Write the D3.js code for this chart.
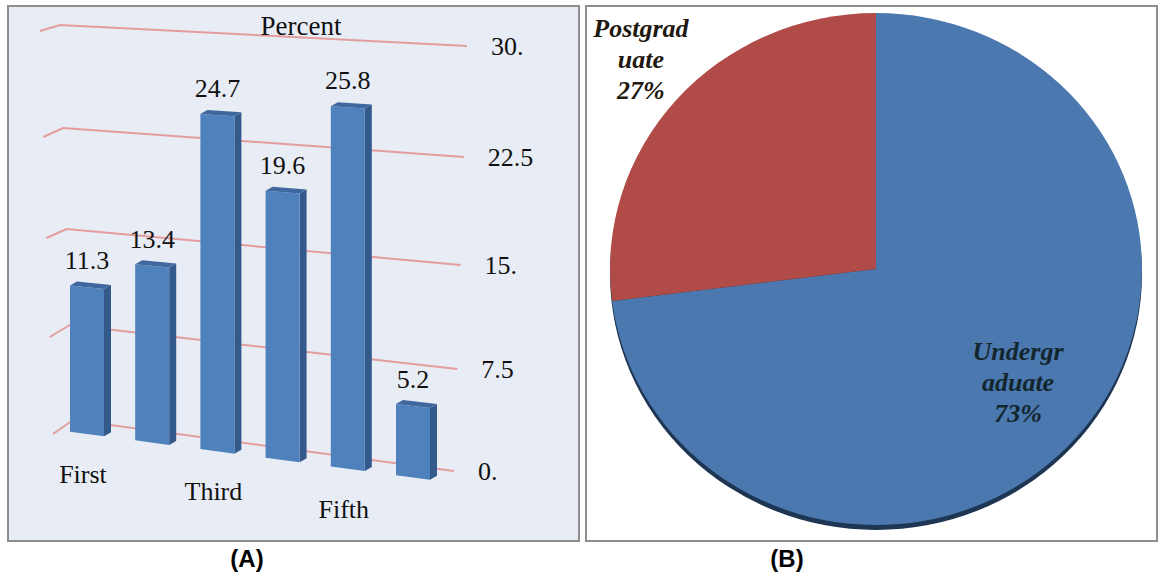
<!DOCTYPE html>
<html>
<head>
<meta charset="utf-8">
<script src="https://cdn.jsdelivr.net/npm/d3@7"></script>
<style>
  html, body { margin: 0; padding: 0; background: #ffffff; }
  svg { display: block; }
</style>
</head>
<body>
<div id="chart"></div>
<script>
// ---------- data ----------
const categories = ["First", "Second", "Third", "Fourth", "Fifth", "Sixth"];
const percentValues = [11.3, 13.4, 24.7, 19.6, 25.8, 5.2];
const yTicks = [0, 7.5, 15, 22.5, 30];
const yTickLabels = ["0.", "7.5", "15.", "22.5", "30."];
const axisTitle = "Percent";
const levels = ["Undergraduate", "Postgraduate"];
const levelShares = [73, 27];
const levelLabelLines = [["Undergr", "aduate", "73%"], ["Postgrad", "uate", "27%"]];
const panelLabels = ["(A)", "(B)"];

// ---------- layout ----------
const W = 1159, H = 576;
const svg = d3.select("#chart").append("svg").attr("width", W).attr("height", H);

const serif = "'Liberation Serif', 'Times New Roman', serif";
const sans = "'Liberation Sans', Arial, sans-serif";

// panel frames
svg.append("rect").attr("x", 8).attr("y", 6).attr("width", 571).attr("height", 535)
  .attr("fill", "#E8ECF5").attr("stroke", "#8E8E8E").attr("stroke-width", 2);
svg.append("rect").attr("x", 586).attr("y", 6).attr("width", 571).attr("height", 535)
  .attr("fill", "#ffffff").attr("stroke", "#8E8E8E").attr("stroke-width", 2);

// ---------- Panel A : pseudo-3D column chart ----------
const vMax = d3.max(yTicks);
const leftX  = d3.scaleLinear().domain([0, vMax]).range([73, 60]);
const leftY  = d3.scaleLinear().domain(yTicks).range([420, 325, 229, 128, 25]);
const rightX = d3.scaleLinear().domain([0, vMax]).range([454, 467]);
const rightY = d3.scaleLinear().domain(yTicks).range([471, 369, 265, 157, 46]);
const stubX  = d3.scaleLinear().domain([0, vMax]).range([53, 40]);
const stubY  = d3.scaleLinear().domain(yTicks).range([434, 337, 238, 137, 31]);

function wallY(v, x) {
  const t = (x - leftX(v)) / (rightX(v) - leftX(v));
  return leftY(v) + t * (rightY(v) - leftY(v));
}
function frontY(v, x) {
  return wallY(v, x) + 0.86 * (stubY(v) - leftY(v));
}

const gA = svg.append("g");

// gridlines
gA.selectAll("path.grid").data(yTicks).join("path")
  .attr("class", "grid")
  .attr("d", v => `M${stubX(v)},${stubY(v)}L${leftX(v)},${leftY(v)}L${rightX(v)},${rightY(v)}`)
  .attr("fill", "none").attr("stroke", "#E49D9D").attr("stroke-width", 2);

// tick labels
gA.selectAll("text.tick").data(yTicks).join("text")
  .attr("class", "tick")
  .attr("x", v => rightX(v) + 24).attr("y", v => rightY(v) + 9)
  .attr("font-family", serif).attr("font-size", 26).attr("fill", "#111")
  .text((v, i) => yTickLabels[i]);

// axis title
gA.append("text").attr("x", 301).attr("y", 35).attr("text-anchor", "middle")
  .attr("font-family", serif).attr("font-size", 27).attr("fill", "#111").text(axisTitle);

// bars
const xPos = d3.scalePoint().domain(categories).range([87, 413]);
const bw = 34, ddx = 7, ddy = -4;
const bars = categories.map((c, i) => ({ c, v: percentValues[i], i }));

const barG = gA.selectAll("g.bar").data(bars).join("g").attr("class", "bar");
barG.each(function(d) {
  const g = d3.select(this);
  const xc = xPos(d.c), xl = xc - bw / 2, xr = xc + bw / 2;
  const tl = frontY(d.v, xl), tr = frontY(d.v, xr);
  const bl = frontY(0, xl), br = frontY(0, xr);
  g.append("polygon")
    .attr("points", [[xr, tr], [xr + ddx, tr + ddy], [xr + ddx, br + ddy], [xr, br]].join(" "))
    .attr("fill", "#34598B");
  g.append("polygon")
    .attr("points", [[xl, tl], [xr, tr], [xr, br], [xl, bl]].join(" "))
    .attr("fill", "#4F81BD");
  g.append("polygon")
    .attr("points", [[xl, tl], [xr, tr], [xr + ddx, tr + ddy], [xl + ddx, tl + ddy]].join(" "))
    .attr("fill", "#3E689F");
  g.append("text").attr("x", xc).attr("y", frontY(d.v, xc) - 18)
    .attr("text-anchor", "middle").attr("font-family", serif).attr("font-size", 26)
    .attr("fill", "#111").text(d.v.toFixed(1));
});

// category labels (every other one, as in the original)
gA.selectAll("text.cat").data(bars.filter(d => d.i % 2 === 0)).join("text")
  .attr("class", "cat")
  .attr("x", d => xPos(d.c) - 4).attr("y", d => frontY(0, xPos(d.c)) + 49)
  .attr("text-anchor", "middle").attr("font-family", serif).attr("font-size", 26)
  .attr("fill", "#111").text(d => d.c);

// ---------- Panel B : pie ----------
const cx = 876, cy = 269, rx = 266, ry = 256;
const pieData = d3.pie().sort(null).value(d => d)(levelShares);
const arc = d3.arc().innerRadius(0).outerRadius(ry);
const colors = ["#4A78AF", "#B04B48"];
const gB = svg.append("g").attr("transform", `translate(${cx},${cy}) scale(${rx / ry},1)`);
gB.append("ellipse").attr("cx", 0).attr("cy", 5).attr("rx", ry).attr("ry", ry).attr("fill", "#1E3653");
gB.selectAll("path.slice").data(pieData).join("path")
  .attr("class", "slice").attr("d", arc).attr("fill", (d, i) => colors[i]);

const labelFactors = [[0.712, 0.70], [1.178, 1.205]];
const labelColors = ["#13262E", "#21180F"];
const labG = svg.selectAll("text.pielab").data(pieData).join("text")
  .attr("class", "pielab")
  .attr("font-family", serif).attr("font-size", 26).attr("font-weight", "bold")
  .attr("font-style", "italic").attr("text-anchor", "middle")
  .attr("fill", (d, i) => labelColors[i]);
labG.each(function(d, i) {
  const a = (d.startAngle + d.endAngle) / 2;
  const x = cx + Math.sin(a) * rx * labelFactors[i][0];
  const y = cy - Math.cos(a) * ry * labelFactors[i][1];
  d3.select(this).selectAll("tspan").data(levelLabelLines[i]).join("tspan")
    .attr("x", x).attr("y", (t, j) => y + 3 + (j - 1) * 31).text(t => t);
});

// ---------- panel captions ----------
svg.selectAll("text.cap").data(panelLabels).join("text")
  .attr("class", "cap")
  .attr("x", (d, i) => [247, 787][i]).attr("y", 567)
  .attr("text-anchor", "middle").attr("font-family", sans).attr("font-weight", "bold")
  .attr("font-size", 24).attr("fill", "#000").text(d => d);
</script>
</body>
</html>
